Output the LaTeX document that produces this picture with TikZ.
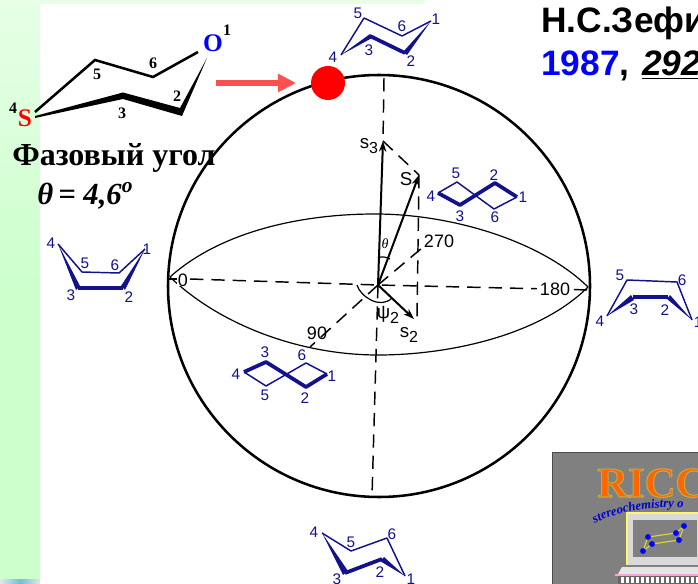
\documentclass[tikz,border=0pt]{standalone}
\usepackage{fontspec}
\setmainfont{Liberation Serif}
\setsansfont{Liberation Sans}
\usetikzlibrary{arrows.meta,decorations.text}
\definecolor{molblue}{RGB}{18,18,140}
\definecolor{bgtop}{RGB}{230,255,230}
\definecolor{bgbot}{RGB}{204,255,204}
\definecolor{ricorange}{RGB}{255,102,0}
\definecolor{stripblue}{RGB}{110,190,225}
\newcommand{\pxfont}[1]{\fontsize{#1}{#1}\selectfont}
\tikzset{
  x=0.75pt,y=-0.75pt,
  sphere/.style={line width=1.9pt,black},
  thinblack/.style={line width=0.9pt,black},
  dashline/.style={line width=1.1pt,black,dash pattern=on 10pt off 6pt},
  vecline/.style={line width=1.5pt,black,-{Stealth[length=8pt,width=5.5pt]}},
  molthin/.style={line width=1.1pt,molblue,line join=round},
  molthick/.style={line width=2.8pt,molblue,line join=round},
  mollabel/.style={text=molblue,font=\sffamily\pxfont{11.5},inner sep=0pt},
  axlabel/.style={text=black,font=\sffamily\pxfont{13.5},inner sep=0pt},
  numlabel/.style={text=black,font=\bfseries\pxfont{12},inner sep=0pt},
}
\begin{document}
\begin{tikzpicture}
\useasboundingbox (0,0) rectangle (698,584);
\clip (0,0) rectangle (698,584);
% background
\fill[white] (0,0) rectangle (698,584);
\fill[top color=bgtop,bottom color=bgbot,middle color=bgbot] (0,0) rectangle (40,584);
\fill[bgtop] (0,0) rectangle (425,4);
\fill[left color=black!10,right color=black!10,middle color=stripblue] (0,579) rectangle (40,584);

% sphere
\node[circle,draw=none,minimum size=316.5pt,inner sep=0pt] (globe) at (379,286) {};
\draw[sphere] (globe.center) circle[radius=158.25pt];
\draw[thinblack] (170,277) .. controls (220,232) and (300,214) .. (375,214) .. controls (450,214) and (540,240) .. (588,287);
\draw[thinblack] (170,277) .. controls (220,325) and (300,355) .. (378,355) .. controls (450,355) and (540,335) .. (588,287);

% axes
\coordinate (o) at (378,285);
\coordinate (xl) at (190,279);
\coordinate (xr) at (590,290);
\coordinate (zt) at (384,78);
\coordinate (zb) at (372,496);
\coordinate (s3) at (383,141);
\coordinate (ss) at (419,175);
\coordinate (s2) at (414,319);
\coordinate (s2b) at (417,318);
\coordinate (y90) at (310,347);
\coordinate (y270) at (422,248);
\draw[dashline] (xl) -- (o) -- (xr);
\draw[thinblack] (168,279) -- (178,279);
\draw[dashline] (zt) -- (s3);
\draw[dashline] (o) -- (zb);
\draw[dashline] (s3) -- (ss);
\draw[dashline] (ss) -- (s2b);
\draw[dashline] (o) -- (y90);
\draw[dashline] (o) -- (y270);
\draw[vecline] (o) -- (s3);
\draw[vecline] (o) -- (ss);
\draw[vecline] (o) -- (s2);
% angle arcs
\draw[thinblack] (357,285) .. controls (360,296) and (380,310) .. (392,298);
\draw[thinblack] (378,258) .. controls (382,256) and (386,257) .. (390,259);

% axis labels
\node[axlabel,fill=white,inner xsep=1pt] (lab0) at (183,280) {0};
\node[axlabel,fill=white,inner xsep=2pt] (lab180) at (555,289) {180};
\node[axlabel] (lab90) at (317,333) {90};
\node[axlabel] (lab270) at (439,241) {270};
\node[axlabel,font=\sffamily\pxfont{14}] (labS) at (406,179) {S};
\node[axlabel,font=\sffamily\pxfont{14}] (labs3) at (369,146) {s\raisebox{-4pt}{\pxfont{12}3}};
\node[axlabel,font=\sffamily\pxfont{14}] (labs2) at (409,335) {s\raisebox{-4pt}{\pxfont{12}2}};
\node[axlabel,font=\itshape\pxfont{10.5}] (labth) at (385,244) {θ};
\node[axlabel,font=\sffamily\pxfont{14}] (labpsi) at (388,315) {ψ\raisebox{-4pt}{\pxfont{12}2}};

% red arrow and dot
\coordinate (ra) at (216,83);
\node[circle,fill=red,minimum size=25.5pt,inner sep=0pt] (dot) at (328,83) {};
\coordinate (rb) at (296,83);
\draw[line width=4.5pt,draw={rgb,255:red,255;green,80;blue,80},-{Triangle[length=13.5pt,width=13pt]}] (ra) -- (rb);

% main molecule
\draw[line width=1.9pt,black,line join=miter] (35,112) -- (95,60) -- (153,77) -- (198,52);
\fill[black] (35,116) -- (123,92.5) -- (180,108) -- (207,58) -- (182,116) -- (123,99) -- (35,118) -- cycle;
\node[inner sep=0pt,text=blue,font=\bfseries\pxfont{19}] (atO) at (213,43) {O};
\node[numlabel] (n1) at (227,30) {1};
\node[inner sep=0pt,text=red,font=\bfseries\pxfont{19}] (atS) at (25,118) {S};
\node[numlabel] (n4) at (13,108) {4};
\node[numlabel] (n6) at (153,63) {6};
\node[numlabel] (n5) at (97,74) {5};
\node[numlabel] (n2) at (177,96) {2};
\node[numlabel] (n3) at (122,113) {3};

% phase angle text
\node[anchor=base west,inner sep=0pt,font=\bfseries\pxfont{24}] (phase) at (12,166) {Фазовый угол};
\node[anchor=base west,inner sep=0pt,font=\bfseries\itshape\pxfont{23}] (theta) at (37,205) {θ\,= 4,6\textsuperscript{o}};

% header
\node[anchor=base west,inner sep=0pt,font=\sffamily\bfseries\pxfont{26.5}] (hd1) at (541,33) {Н.С.Зефи};
\node[anchor=base west,inner sep=0pt,font=\sffamily\bfseries\pxfont{26.5}] (hd2) at (541,76) {\textcolor{blue}{1987},\kern2pt{} \textit{\underline{292}}};

% top chair
\draw[molthin] (341,55) -- (364,18) -- (402,36) -- (431,21);
\draw[molthick] (370,36) -- (405,53);
\fill[molblue] (341,55) -- (370,34) -- (372,38) -- cycle;
\fill[molblue] (431,21) -- (403,52) -- (407,55) -- cycle;
\node[mollabel] at (333,57) {4};
\node[mollabel] at (358,13) {5};
\node[mollabel] at (402,26) {6};
\node[mollabel] at (436,19) {1};
\node[mollabel] at (369,50) {3};
\node[mollabel] at (411,61) {2};

% right twist
\draw[molthin] (438,193) -- (457,182) -- (494,209) -- (517,197);
\draw[molthick] (438,193) -- (460,205) -- (495,183) -- (517,197);
\node[mollabel] at (456,173) {5};
\node[mollabel] at (494,175) {2};
\node[mollabel] at (523,197) {1};
\node[mollabel] at (431,196) {4};
\node[mollabel] at (460,216) {3};
\node[mollabel] at (495,217) {6};

% lower twist
\draw[molthin] (244,372) -- (266,386) -- (306,363) -- (327,374);
\draw[molthick] (244,372) -- (266,362) -- (306,387) -- (327,374);
\node[mollabel] at (265,352) {3};
\node[mollabel] at (302,355) {6};
\node[mollabel] at (236,374) {4};
\node[mollabel] at (332,376) {1};
\node[mollabel] at (265,395) {5};
\node[mollabel] at (305,398) {2};

% left boat
\draw[molthin] (58,244) -- (82,272) -- (119,273) -- (145,249);
\fill[molblue] (58,244) -- (76,290) -- (80,286) -- cycle;
\fill[molblue] (145,249) -- (121,286) -- (125,290) -- cycle;
\draw[molthick] (78,288) -- (123,288);
\node[mollabel] at (51,243) {4};
\node[mollabel] at (85,263) {5};
\node[mollabel] at (115,265) {6};
\node[mollabel] at (147,249) {1};
\node[mollabel] at (71,295) {3};
\node[mollabel] at (129,297) {2};

% right boat
\draw[molthin] (607,316) -- (627,280) -- (677,282) -- (692,320);
\fill[molblue] (607,316) -- (631,295) -- (634,300) -- cycle;
\fill[molblue] (692,320) -- (667,299) -- (670,295) -- cycle;
\draw[molthick] (633,297) -- (668,297);
\node[mollabel] at (620,275) {5};
\node[mollabel] at (682,280) {6};
\node[mollabel] at (600,321) {4};
\node[mollabel] at (634,309) {3};
\node[mollabel] at (665,310) {2};
\node[mollabel] at (698,322) {1};

% bottom chair
\draw[molthin] (322,533) -- (351,551) -- (387,538) -- (405,576);
\fill[molblue] (322,533) -- (343,575) -- (348,571) -- cycle;
\draw[molthick] (345,573) -- (382,559);
\fill[molblue] (405,576) -- (380,561) -- (384,557) -- cycle;
\node[mollabel] at (314,532) {4};
\node[mollabel] at (351,542) {5};
\node[mollabel] at (392,534) {6};
\node[mollabel] at (411,579) {1};
\node[mollabel] at (380,572) {2};
\node[mollabel] at (337,579) {3};

% RICC logo
\fill[gray] (552,452) rectangle (698,584);
\draw[line width=0.6pt,black!70] (552,584) -- (552,452) -- (698,452);
\node[anchor=base west,inner sep=0pt,font=\bfseries\pxfont{32},text=ricorange] (ricc) at (597,497) {\special{pdf:code 2 Tr 0.8 w 0.75 0.67 0.27 RG}RICC\special{pdf:code 0 Tr}};
\path[decorate,decoration={text along path,text={|\bfseries\itshape\pxfont{9.5}\color{blue!80!black}|stereochemistry o},text align=left}] (595,524) .. controls (615,511) and (660,504) .. (698,509);
\fill[black!15] (627,513) rectangle (698,565);
\draw[line width=0.8pt,yellow!60!white] (627,565) -- (627,513) -- (698,513);
\fill[gray] (633,520) rectangle (697,557);
\draw[line width=0.9pt,yellow!85!black] (643,551) -- (648,537) -- (676,533) -- (684,526) -- (679,540) -- (652,544) -- cycle;
\foreach \p in {(643,551),(648,537),(652,544),(676,533),(684,526),(679,540)} \fill[blue] \p circle[radius=2.2pt];
\fill[black!10] (622,567) -- (698,567) -- (698,574) -- (618,574) -- cycle;
\fill[magenta!35!white] (615,574) rectangle (698,576);
\fill[black!60] (618,576) rectangle (698,584);
\foreach \k in {0,5,...,75} \fill[white] (621+\k,577) rectangle (624+\k,583);
\end{tikzpicture}
\end{document}
